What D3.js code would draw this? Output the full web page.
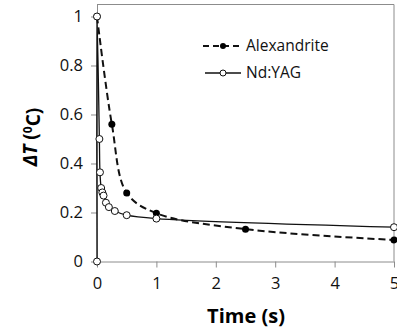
<!DOCTYPE html>
<html>
<head>
<meta charset="utf-8">
<script src="https://cdn.jsdelivr.net/npm/d3@7"></script>
<style>
  body { margin: 0; background: #fff; }
  text { font-family: "Open Sans", "Noto Sans", sans-serif; }
</style>
</head>
<body>
<div id="container"></div>
<script>
// data
var alexTime = [0, 0.25, 0.5, 1, 2.5, 5];
var alexDT   = [1, 0.56, 0.28, 0.197, 0.132, 0.088];
var ndTime = [0, 0, 0.04, 0.05, 0.07, 0.09, 0.11, 0.15, 0.2, 0.3, 0.5, 1, 5];
var ndDT   = [0, 1, 0.5, 0.364, 0.3, 0.282, 0.269, 0.24, 0.222, 0.206, 0.189, 0.175, 0.14];
var xTicks = [0, 1, 2, 3, 4, 5];
var yTicks = [0, 0.2, 0.4, 0.6, 0.8, 1];

var W = 397, H = 332;
var margin = {top: 4, right: 2, bottom: 70, left: 97};
var width = W - margin.left - margin.right;
var height = H - margin.top - margin.bottom;

var svg = d3.select("#container")
  .append("svg")
    .attr("width", W)
    .attr("height", H)
  .append("g")
    .attr("transform", "translate(" + margin.left + "," + margin.top + ")");

var x = d3.scaleLinear().domain([0, 5]).range([0, 297]);
var y = d3.scaleLinear().domain([0, 1.051]).range([height - 0.5, 0]);

// frame top and right
svg.append("path")
  .attr("d", "M0,0.5H" + x(5) + "V" + y(0))
  .attr("fill", "none").attr("stroke", "#8c8c8c").attr("stroke-width", 1);

var xAxis = svg.append("g")
  .attr("transform", "translate(0," + y(0) + ")")
  .call(d3.axisBottom(x).tickValues(xTicks).tickFormat(d3.format("d")).tickSize(6).tickSizeOuter(0));
var yAxis = svg.append("g")
  .call(d3.axisLeft(y).tickValues(yTicks).tickFormat(function (d) { return d === 0 || d === 1 ? d : d.toFixed(1); }).tickSize(6).tickSizeOuter(0));

[xAxis, yAxis].forEach(function (a) {
  a.selectAll("path, line").attr("stroke", "#8c8c8c");
  a.selectAll("text").attr("fill", "#111").style("font-size", "16.5px");
});
xAxis.selectAll("text").attr("dy", "1.1em");
yAxis.selectAll("text").attr("x", -14);

var line = d3.line()
  .x(function (d) { return x(d[0]); })
  .y(function (d) { return y(d[1]); })
  .curve(d3.curveCatmullRom.alpha(0.5));

var alex = d3.zip(alexTime, alexDT);
var nd = d3.zip(ndTime, ndDT);

svg.append("path")
  .attr("d", line(nd))
  .attr("fill", "none").attr("stroke", "#111").attr("stroke-width", 1.3);

svg.append("path")
  .attr("d", line(alex))
  .attr("fill", "none").attr("stroke", "#111").attr("stroke-width", 2)
  .attr("stroke-dasharray", "7,4");

svg.append("g").selectAll("circle")
  .data(alex).enter().append("circle")
    .attr("cx", function (d) { return x(d[0]); })
    .attr("cy", function (d) { return y(d[1]); })
    .attr("r", 3.5).attr("fill", "#000");

svg.append("g").selectAll("circle")
  .data(nd).enter().append("circle")
    .attr("cx", function (d) { return x(d[0]); })
    .attr("cy", function (d) { return y(d[1]); })
    .attr("r", 3.5).attr("fill", "#fff").attr("stroke", "#111").attr("stroke-width", 1);

// legend
var lg = svg.append("g").attr("transform", "translate(106,42)");
lg.append("line").attr("x1", 0).attr("x2", 40).attr("y1", 0).attr("y2", 0)
  .attr("stroke", "#111").attr("stroke-width", 2).attr("stroke-dasharray", "6,4");
lg.append("circle").attr("cx", 20).attr("cy", 0).attr("r", 3).attr("fill", "#000");
lg.append("text").attr("x", 43).attr("y", 5).text("Alexandrite").style("font-size", "15.5px").attr("fill", "#111");
lg.append("line").attr("x1", 2).attr("x2", 38).attr("y1", 27).attr("y2", 27)
  .attr("stroke", "#111").attr("stroke-width", 1.3);
lg.append("circle").attr("cx", 20).attr("cy", 27).attr("r", 3).attr("fill", "#fff").attr("stroke", "#111");
lg.append("text").attr("x", 43).attr("y", 32).text("Nd:YAG").style("font-size", "15.5px").attr("fill", "#111");

// axis titles
svg.append("text")
  .attr("x", 149).attr("y", 319)
  .attr("text-anchor", "middle")
  .style("font-size", "20px").style("font-weight", "bold")
  .text("Time (s)");

var yl = svg.append("text")
  .attr("transform", "translate(-60," + 133 + ") rotate(-90)")
  .attr("text-anchor", "middle")
  .style("font-size", "19px").style("font-weight", "bold");
yl.append("tspan").style("font-style", "italic").text("ΔT");
yl.append("tspan").text(" (");
yl.append("tspan").attr("dy", "-0.45em").style("font-size", "12px").text("0");
yl.append("tspan").attr("dy", "0.45em").text("C)");
</script>
</body>
</html>
